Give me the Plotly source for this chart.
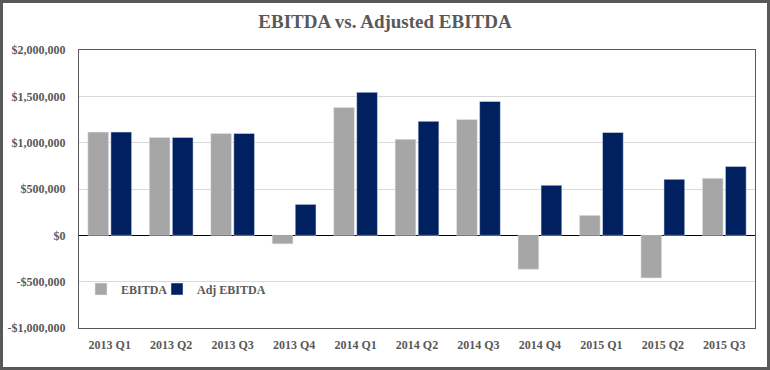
import plotly.graph_objects as go

categories = ["2013 Q1", "2013 Q2", "2013 Q3", "2013 Q4", "2014 Q1", "2014 Q2",
              "2014 Q3", "2014 Q4", "2015 Q1", "2015 Q2", "2015 Q3"]
ebitda = [1114000, 1057000, 1100000, -92000, 1380000, 1036000,
          1250000, -367000, 216000, -460000, 615000]
adj_ebitda = [1114000, 1057000, 1100000, 334000, 1543000, 1230000,
              1445000, 540000, 1110000, 604000, 744000]
y_tickvals = [-1000000, -500000, 0, 500000, 1000000, 1500000, 2000000]
y_ticktext = ["-$1,000,000", "-$500,000", "$0", "$500,000", "$1,000,000",
              "$1,500,000", "$2,000,000"]

FONT = "Liberation Serif"
TXT = "#595959"

W, H = 770, 370
ML, MR, MT, MB = 79, 15, 50, 42
PW, PH = W - ML - MR, H - MT - MB

fig = go.Figure()
fig.add_trace(go.Bar(x=categories, y=ebitda, name="<b>EBITDA</b>", marker_color="#a6a6a6",
                     legend="legend"))
fig.add_trace(go.Bar(x=categories, y=adj_ebitda, name="<b>Adj EBITDA</b>", marker_color="#002060",
                     legend="legend2"))

def px_x(p):
    return (p - ML) / PW

def px_y(p):
    return (H - MB - p) / PH

leg_common = dict(orientation="h", yanchor="middle", xanchor="left",
                  bgcolor="rgba(0,0,0,0)", font=dict(family=FONT, size=12, color=TXT),
                  itemwidth=30)

fig.update_layout(
    width=W, height=H,
    margin=dict(l=ML, r=MR, t=MT, b=MB, pad=0, autoexpand=False),
    paper_bgcolor="white", plot_bgcolor="white",
    barmode="group", bargap=0.25, bargroupgap=0.1,
    title=dict(text="<b>EBITDA vs. Adjusted EBITDA</b>", x=0.5, xref="container",
               xanchor="center", y=1 - 21 / H, yanchor="middle",
               font=dict(family=FONT, size=19, color=TXT), automargin=False),
    font=dict(family=FONT, color=TXT),
    showlegend=True,
    legend=dict(x=px_x(81), y=px_y(289), **leg_common),
    legend2=dict(x=px_x(157), y=px_y(289), **leg_common),
    xaxis=dict(automargin=False, showline=True, linecolor="#595959", linewidth=1, mirror=True,
               showgrid=False, tickfont=dict(family=FONT, size=12, color=TXT),
               ticks="outside", ticklen=6, tickcolor="rgba(0,0,0,0)",
               tickprefix="<b>", ticksuffix="</b>"),
    yaxis=dict(automargin=False, range=[-1000000, 2000000], tickvals=y_tickvals,
               ticktext=[f"<b>{t}</b>" for t in y_ticktext],
               showline=True, linecolor="#595959", linewidth=1, mirror=True,
               showgrid=True, gridcolor="#d9d9d9", gridwidth=1,
               zeroline=True, zerolinecolor="#000000", zerolinewidth=1,
               tickfont=dict(family=FONT, size=12, color=TXT),
               ticks="outside", ticklen=10, tickcolor="rgba(0,0,0,0)"),
    shapes=[dict(type="rect", xref="paper", yref="paper",
                 x0=px_x(1.5), x1=px_x(W - 1.5), y0=px_y(H - 1.5), y1=px_y(1.5),
                 line=dict(color="#595959", width=3), layer="above")],
)

fig.write_html("out.html", config={"displayModeBar": False},
               post_script="document.body.style.margin='0';document.body.style.overflow='hidden';")
